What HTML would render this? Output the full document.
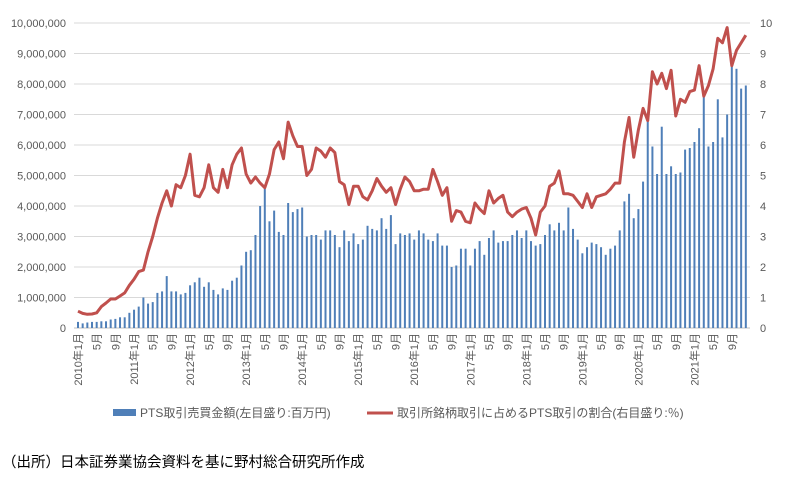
<!DOCTYPE html>
<html><head><meta charset="utf-8">
<style>
body{margin:0;background:#fff;width:796px;height:487px;overflow:hidden;font-family:"Liberation Sans","Noto Sans CJK JP",sans-serif;}
svg text{font-family:"Liberation Sans","Noto Sans CJK JP",sans-serif;fill:#595959;}
</style></head><body>
<svg id="c" width="796" height="487" xmlns="http://www.w3.org/2000/svg"></svg>
<script>
var bars=[0.2,0.15,0.18,0.2,0.2,0.22,0.22,0.28,0.3,0.35,0.35,0.5,0.6,0.7,1.0,0.8,0.85,1.15,1.2,1.7,1.2,1.2,1.1,1.15,1.4,1.5,1.65,1.35,1.5,1.25,1.1,1.3,1.25,1.55,1.65,2.05,2.5,2.55,3.05,4.0,4.6,3.5,3.85,3.15,3.05,4.1,3.8,3.9,3.95,3.0,3.05,3.05,2.9,3.2,3.2,3.05,
2.65,3.2,2.85,3.1,2.75,2.9,3.35,3.25,3.2,3.6,3.25,3.7,2.75,3.1,3.05,3.1,2.9,3.2,3.1,2.9,2.85,3.1,2.7,2.7,2.0,2.05,2.6,2.6,2.05,2.6,2.85,2.4,2.95,3.2,2.8,2.85,2.85,3.05,3.2,2.95,3.2,2.85,2.7,2.75,3.05,3.4,3.2,3.45,3.2,3.95,
3.25,2.9,2.45,2.65,2.8,2.75,2.65,2.4,2.6,2.7,3.2,4.15,4.4,3.6,3.9,4.8,6.9,5.95,5.05,6.6,5.05,5.3,5.05,5.1,5.85,5.9,6.1,6.55,7.6,5.95,6.1,7.5,6.25,7.0,8.6,8.5,7.85,7.95];
var line=[0.55,0.48,0.45,0.46,0.5,0.7,0.82,0.95,0.95,1.05,1.15,1.4,1.6,1.85,1.9,2.5,3.0,3.6,4.1,4.5,4.0,4.7,4.6,5.0,5.7,4.35,
4.3,4.6,5.35,4.6,4.45,5.2,4.6,5.35,5.7,5.9,5.05,4.75,4.95,4.75,4.6,5.05,5.85,6.1,5.55,6.75,6.3,5.95,5.95,5.0,5.2,5.9,5.8,5.6,5.9,5.75,
4.8,4.7,4.05,4.65,4.65,4.3,4.2,4.5,4.9,4.65,4.45,4.6,4.05,4.55,4.95,4.8,4.5,4.5,4.55,4.55,5.2,4.8,4.35,4.6,3.5,3.85,3.8,3.5,3.45,4.1,3.9,3.75,4.5,4.1,4.25,4.35,3.8,3.65,3.8,3.9,3.95,3.6,3.05,3.8,4.0,4.65,4.75,5.15,4.4,4.4,
4.35,4.15,3.95,4.4,3.95,4.3,4.35,4.4,4.55,4.75,4.75,6.1,6.9,5.6,6.5,7.2,6.8,8.4,8.0,8.35,7.85,8.45,6.95,7.5,7.4,7.75,7.8,8.6,7.6,7.95,8.5,9.5,9.35,9.85,8.6,9.1,9.35,9.6];
var s='',y0=328,u=30.5,x0=78,dx=4.67;
for(var i=0;i<=10;i++){var y=y0-i*u;
 s+='<line x1="74" x2="750" y1="'+y+'" y2="'+y+'" stroke="'+(i==0?'#bfbfbf':'#d9d9d9')+'" stroke-width="1"/>';
 var l=i==0?'0':(i*1000000).toLocaleString('en-US');
 s+='<text x="66" y="'+(y+4)+'" font-size="11" text-anchor="end">'+l+'</text>';
 s+='<text x="760" y="'+(y+4)+'" font-size="11">'+i+'</text>';}
for(var i=0;i<144;i++){var v=bars[i]||0,h=v*u,x=x0+i*dx;
 s+='<rect x="'+(x-1).toFixed(2)+'" y="'+(y0-h).toFixed(1)+'" width="2" height="'+h.toFixed(1)+'" fill="#4f7fb8"/>';}
var p='';for(var i=0;i<144;i++){p+=(i?'L':'M')+(x0+i*dx).toFixed(2)+','+(y0-line[i]*u).toFixed(1);}
s+='<path d="'+p+'" fill="none" stroke="#c0504d" stroke-width="3" stroke-linejoin="round"/>';
for(var i=0;i<144;i+=4){var x=x0+i*dx,m=i%12+1,t=(m==1?(2010+i/12)+'年1月':m+'月');
 s+='<text transform="translate('+(x+4)+',333) rotate(-90)" font-size="11" text-anchor="end">'+t+'</text>';}
s+='<rect x="113" y="409" width="23" height="7" fill="#4f7fb8"/><text x="140" y="417" font-size="12">PTS取引売買金額(左目盛り:百万円)</text>';
s+='<line x1="367" x2="393" y1="413" y2="413" stroke="#c0504d" stroke-width="3"/><text x="397" y="417" font-size="12">取引所銘柄取引に占めるPTS取引の割合(右目盛り:％)</text>';
s+='<text x="2" y="467" font-size="14.5" style="fill:#000">（出所）日本証券業協会資料を基に野村総合研究所作成</text>';
document.getElementById('c').innerHTML=s;
</script>
</body></html>
